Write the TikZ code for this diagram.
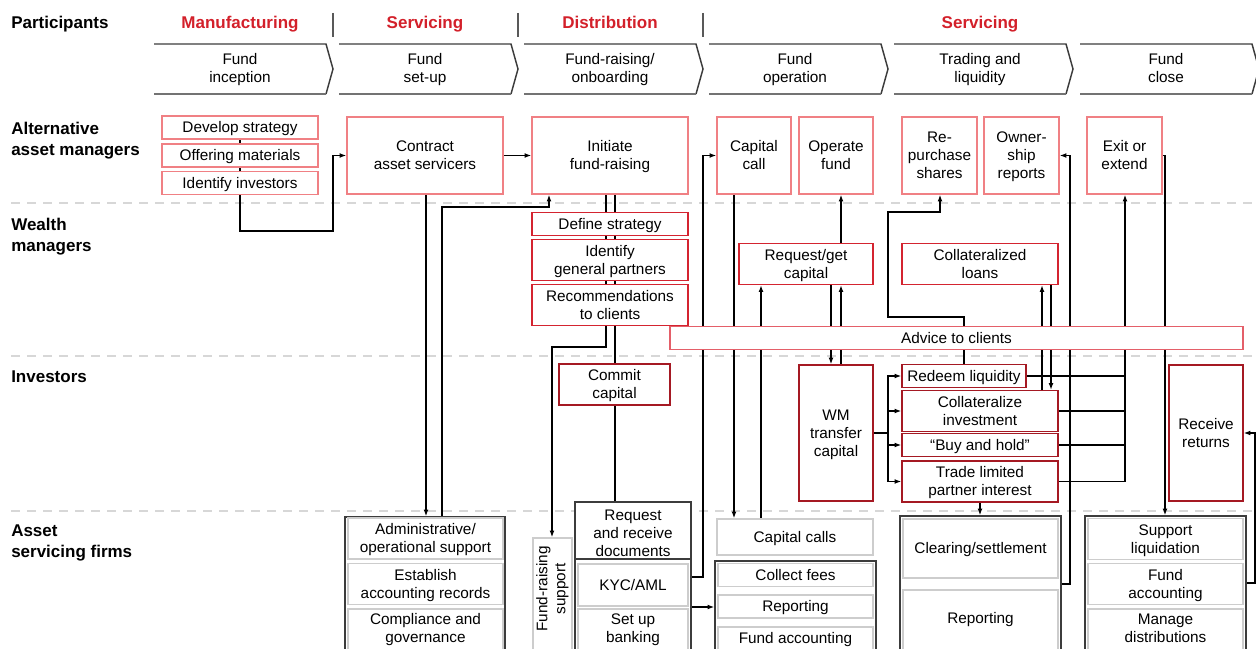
\documentclass[tikz,border=0pt]{standalone}
\usepackage{fontspec}
\setmainfont{Liberation Sans}
\usetikzlibrary{arrows.meta,backgrounds}
\definecolor{cHead}{RGB}{211,32,42}
\definecolor{cPink}{RGB}{240,128,132}
\definecolor{cRed}{RGB}{212,36,48}
\definecolor{cDRed}{RGB}{165,25,35}
\definecolor{cAdv}{RGB}{228,95,105}
\definecolor{cGray}{RGB}{205,205,205}
\definecolor{cDark}{RGB}{60,60,60}
\definecolor{cLane}{RGB}{215,215,215}
\newcommand\bxfont{\fontsize{11.5}{13.5}\selectfont}
\newcommand\lblfont{\fontsize{12.75}{15.75}\selectfont\bfseries}
\newcommand\sa{\rule{0pt}{11.73pt}}
\newcommand\sz{\rule[-3.5pt]{0pt}{3.5pt}}
\newcommand\la{\rule{0pt}{12.63pt}}
\newcommand\mkbox[7]{\node[#2, minimum width={(#5-#3)*0.75pt}, minimum height={(#6-#4)*0.75pt}] (#1) at ({(#3+#5)/2},{(#4+#6)/2}) {\sa #7\sz};}
\newcommand\mkchev[3]{%
  \draw[chevtop] (#1,44) -- ({#1+172},44) -- ({#1+179},69) -- ({#1+172},94);
  \draw[chevbot] ({#1+172},94) -- (#1,94);
  \node[txt] (#2) at ({#1+86},68) {\sa #3\sz};}
\tikzset{
  box/.style={draw, fill=white, line width=1.1pt, inner sep=1pt, align=center, font=\bxfont},
  pinkbox/.style={box, draw=cPink},
  redbox/.style={box, draw=cRed},
  dredbox/.style={box, draw=cDRed},
  advbox/.style={box, draw=cAdv},
  graybox/.style={box, draw=cGray},
  grpbox/.style={box, draw=cDark},
  conn/.style={line width=0.8pt, draw=black},
  arr/.style={conn, -{Latex[length=5pt,width=3.6pt]}},
  lane/.style={draw=cLane, line width=1.1pt, dash pattern=on 7pt off 5pt},
  chevtop/.style={draw=cDark, line width=1.1pt},
  chevbot/.style={draw=black!55, line width=1.5pt},
  sepline/.style={draw=black!65, line width=1.2pt},
  lbl/.style={anchor=west, inner sep=0pt, font=\lblfont, align=left},
  hdr/.style={inner sep=0pt, font=\lblfont, text=cHead},
  txt/.style={inner sep=0pt, font=\bxfont, align=center}
}
\begin{document}
\begin{tikzpicture}[x=0.75pt,y=-0.75pt]
\useasboundingbox (0,0) rectangle (1256,649);
% row labels
\node[lbl] (lPart) at (11,22) {\la Participants\sz};
\node[lbl] (lAlt) at (11,138.5) {\la Alternative\\asset managers\sz};
\node[lbl] (lWm) at (11,234.5) {\la Wealth\\managers\sz};
\node[lbl] (lInv) at (11,376) {\la Investors\sz};
\node[lbl] (lAsf) at (11,540.5) {\la Asset\\servicing firms\sz};
% headers
\node[hdr] (hMan) at (240,22) {\la Manufacturing\sz};
\node[hdr] (hSer1) at (425,22) {\la Servicing\sz};
\node[hdr] (hDis) at (610,22) {\la Distribution\sz};
\node[hdr] (hSer2) at (980,22) {\la Servicing\sz};
\draw[sepline] (333,13) -- (333,37);
\draw[sepline] (518,13) -- (518,37);
\draw[sepline] (703,13) -- (703,37);
% chevrons
\mkchev{154}{cv1}{Fund\\inception}
\mkchev{339}{cv2}{Fund\\set-up}
\mkchev{524}{cv3}{Fund-raising/\\onboarding}
\mkchev{709}{cv4}{Fund\\operation}
\mkchev{894}{cv5}{Trading and\\liquidity}
\mkchev{1080}{cv6}{Fund\\close}
% alternative asset managers
\mkbox{dev}{pinkbox}{162}{117}{318}{138}{Develop strategy}
\mkbox{offer}{pinkbox}{162}{145}{318}{166}{Offering materials}
\mkbox{ident}{pinkbox}{162}{172}{318}{194}{Identify investors}
\mkbox{contract}{pinkbox}{347}{117}{503}{194}{Contract\\asset servicers}
\mkbox{initiate}{pinkbox}{532}{117}{688}{194}{Initiate\\fund-raising}
\mkbox{capcall}{pinkbox}{717}{117}{791}{194}{Capital\\call}
\mkbox{operate}{pinkbox}{799}{117}{873}{194}{Operate\\fund}
\mkbox{repurchase}{pinkbox}{902}{117}{977}{194}{Re-\\purchase\\shares}
\mkbox{ownership}{pinkbox}{984}{117}{1059}{194}{Owner-\\ship\\reports}
\mkbox{exit}{pinkbox}{1087}{117}{1162}{194}{Exit or\\extend}
% wealth managers
\mkbox{defstrat}{redbox}{532}{213}{688}{235}{Define strategy}
\mkbox{idgp}{redbox}{532}{240}{688}{280}{Identify\\general partners}
\mkbox{rec}{redbox}{532}{285}{688}{325}{Recommendations\\to clients}
\mkbox{reqget}{redbox}{739}{244}{873}{284}{Request/get\\capital}
\mkbox{loans}{redbox}{902}{244}{1058}{284}{Collateralized\\loans}
\mkbox{advice}{advbox}{670}{327}{1243}{349}{Advice to clients}
% investors
\mkbox{commit}{dredbox}{559}{365}{670}{404}{Commit\\capital}
\mkbox{wm}{dredbox}{799}{365}{873}{501}{WM\\transfer\\capital}
\mkbox{redeem}{dredbox}{902}{365}{1026}{387}{Redeem liquidity}
\mkbox{collinv}{dredbox}{902}{392}{1058}{430}{Collateralize\\investment}
\mkbox{buyhold}{dredbox}{902}{434}{1058}{456}{“Buy and hold”}
\mkbox{trade}{dredbox}{902}{462}{1058}{501}{Trade limited\\partner interest}
\mkbox{receive}{dredbox}{1169}{365}{1243}{501}{Receive\\returns}
% asset servicing firms
\mkbox{g1}{grpbox}{345}{517}{505}{665}{}
\mkbox{admin}{graybox}{348}{519}{503}{558}{Administrative/\\operational support}
\mkbox{estab}{graybox}{348}{564}{503}{604}{Establish\\accounting records}
\mkbox{compl}{graybox}{348}{609}{503}{665}{}
\node[txt] (complT) at (425.5,628.5) {\sa Compliance and\\governance\sz};
\mkbox{frs}{graybox}{533}{538}{572}{665}{}
\node[txt, rotate=90] (frsT) at (551,589) {\sa Fund-raising\\support\sz};
\mkbox{g2}{grpbox}{575}{502}{691}{665}{}
\mkbox{reqdocs}{grpbox}{575}{502}{691}{559}{}
\node[txt] (reqdocsT) at (633,533) {\sa Request\\and receive\\documents\sz};
\mkbox{kyc}{graybox}{578}{564}{688}{606}{KYC/AML}
\mkbox{setup}{graybox}{578}{609}{688}{665}{}
\node[txt] (setupT) at (633,628.5) {\sa Set up\\banking\sz};
\mkbox{capcalls}{graybox}{717}{519}{873}{555}{Capital calls}
\mkbox{g3}{grpbox}{715}{561}{876}{665}{}
\mkbox{fees}{graybox}{718}{564}{873}{586}{Collect fees}
\mkbox{rep3}{graybox}{718}{596}{873}{617}{Reporting}
\mkbox{fa3}{graybox}{718}{627}{873}{665}{}
\node[txt] (fa3T) at (795.5,638) {\sa Fund accounting\sz};
\mkbox{g4}{grpbox}{900}{516}{1061}{665}{}
\mkbox{clear}{graybox}{903}{519}{1058}{578}{Clearing/settlement}
\mkbox{rep4}{graybox}{903}{590}{1058}{665}{}
\node[txt] (rep4T) at (980.5,618) {\sa Reporting\sz};
\mkbox{g5}{grpbox}{1085}{516}{1246}{665}{}
\mkbox{supp}{graybox}{1088}{519}{1243}{559}{Support\\liquidation}
\mkbox{fa5}{graybox}{1088}{564}{1243}{604}{Fund\\accounting}
\mkbox{manage}{graybox}{1088}{609}{1243}{665}{}
\node[txt] (manT) at (1165.5,628.5) {\sa Manage\\distributions\sz};
% connectors
\begin{pgfonlayer}{background}
\foreach \yy in {203,356,511} \draw[lane] (11,\yy) -- (1256,\yy);
\coordinate (b1) at (333,231);
\draw[arr] (dev.south) |- (b1) |- (contract.west);
\draw[arr] (contract.east) -- (initiate.west);
\coordinate (x426) at (426,0);
\draw[arr] (contract.south -| x426) -- (g1.north -| x426);
\coordinate (b2) at (442,207);
\coordinate (b3) at (549,207);
\draw[arr] (g1.north -| b2) -- (b2) -- (b3) -- (initiate.south -| b3);
\coordinate (b4) at (606,347);
\coordinate (b5) at (552,347);
\draw[arr] (initiate.south -| b4) -- (b4) -- (b5) -- (frs.north -| b5);
\coordinate (x615) at (615,0);
\draw[conn] (initiate.south -| x615) -- (g2.north -| x615);
\coordinate (b6) at (703,577);
\draw[arr] (g2.east |- b6) -- (b6) |- (capcall.west);
\coordinate (y607) at (0,607);
\draw[arr] (g2.east |- y607) -- (g3.west |- y607);
\coordinate (x734) at (734,0);
\draw[arr] (capcall.south -| x734) -- (capcalls.north -| x734);
\coordinate (x761) at (761,0);
\draw[arr] (capcalls.north -| x761) -- (reqget.south -| x761);
\coordinate (x841) at (841,0);
\draw[arr] (reqget.north -| x841) -- (operate.south -| x841);
\draw[arr] (wm.north -| x841) -- (reqget.south -| x841);
\coordinate (x831) at (831,0);
\draw[arr] (reqget.south -| x831) -- (wm.north -| x831);
\coordinate (bus) at (888,433);
\draw[conn] (wm.east) -- (bus);
\draw[arr] (bus) |- (redeem.west);
\draw[arr] (bus) |- (collinv.west);
\draw[arr] (bus) |- (buyhold.west);
\draw[arr] (bus) |- (trade.west);
\draw[arr] (trade.south) -- (trade.south |- g4.north);
\coordinate (b7) at (964,317);
\coordinate (b8) at (888,317);
\coordinate (b9) at (888,212);
\coordinate (b10) at (940,212);
\draw[arr] (redeem.north) -- (b7) -- (b8) -- (b9) -- (b10) -- (repurchase.south -| b10);
\coordinate (x1042) at (1042,0);
\coordinate (x1051) at (1051,0);
\draw[arr] (collinv.north -| x1042) -- (loans.south -| x1042);
\draw[arr] (loans.south -| x1051) -- (collinv.north -| x1051);
\coordinate (b11) at (1070,584);
\draw[arr] (g4.east |- b11) -- (b11) |- (ownership.east);
\coordinate (x1125) at (1125,0);
\draw[conn, line width=1.3pt] (redeem.east) -- (redeem.east -| x1125);
\draw[conn] (collinv.east) -- (collinv.east -| x1125);
\draw[conn] (buyhold.east) -- (buyhold.east -| x1125);
\draw[conn] (trade.east) -- (trade.east -| x1125);
\draw[arr] (trade.east -| x1125) -- (exit.south -| x1125);
\coordinate (x1165) at (1165,0);
\draw[arr] (exit.east) -- (exit.east -| x1165) -- (g5.north -| x1165);
\coordinate (b12) at (1255,583);
\draw[arr] (g5.east |- b12) -- (b12) |- (receive.east);
\end{pgfonlayer}
\end{tikzpicture}
\end{document}
